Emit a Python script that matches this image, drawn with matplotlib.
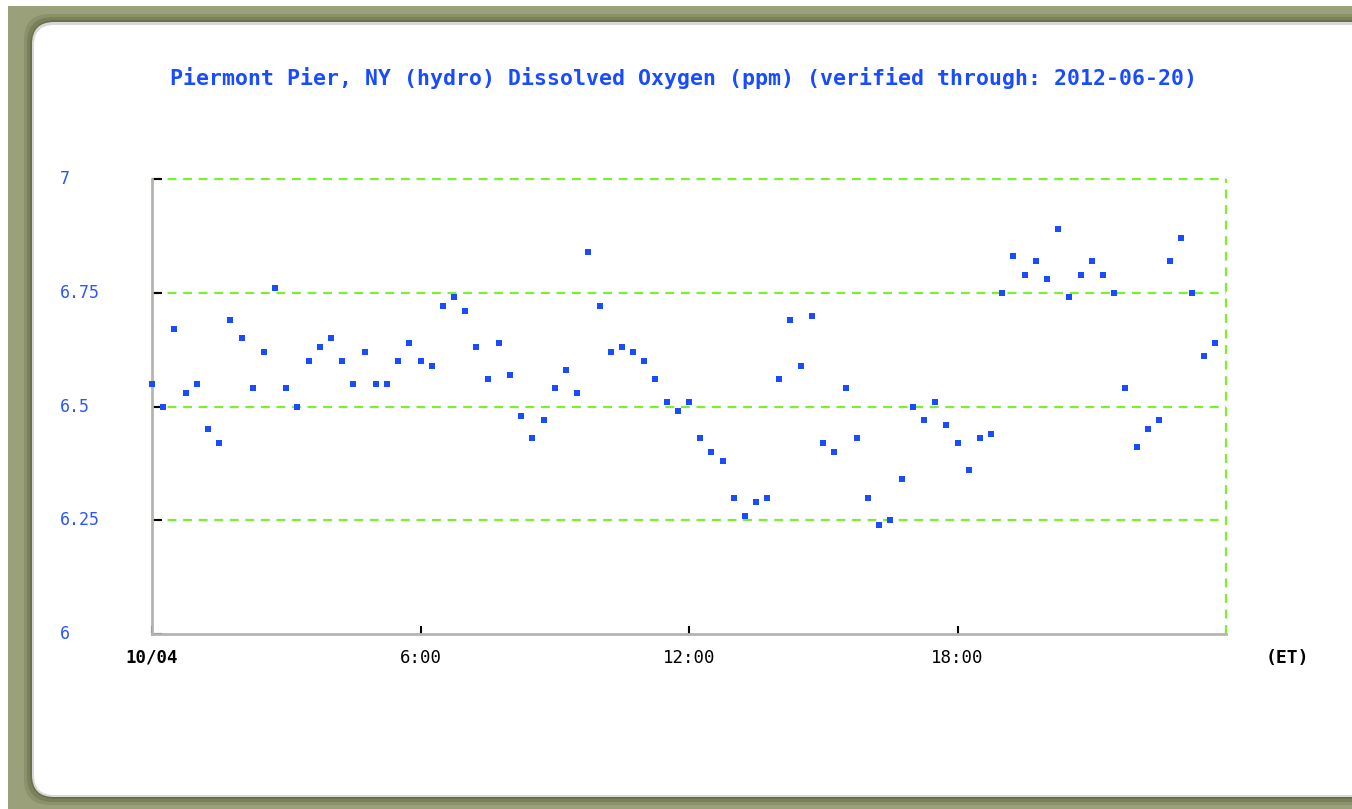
import numpy as np
import matplotlib
matplotlib.use("Agg")
import matplotlib.pyplot as plt
from matplotlib.patches import Rectangle, FancyBboxPatch

# dissolved oxygen (ppm), one reading every 15 minutes from 00:00
oxygen = [6.55, 6.50, 6.67, 6.53, 6.55, 6.45, 6.42, 6.69, 6.65, 6.54, 6.62, 6.76,
          6.54, 6.50, 6.60, 6.63, 6.65, 6.60, 6.55, 6.62, 6.55, 6.55, 6.60, 6.64,
          6.60, 6.59, 6.72, 6.74, 6.71, 6.63, 6.56, 6.64, 6.57, 6.48, 6.43, 6.47,
          6.54, 6.58, 6.53, 6.84, 6.72, 6.62, 6.63, 6.62, 6.60, 6.56, 6.51, 6.49,
          6.51, 6.43, 6.40, 6.38, 6.30, 6.26, 6.29, 6.30, 6.56, 6.69, 6.59, 6.70,
          6.42, 6.40, 6.54, 6.43, 6.30, 6.24, 6.25, 6.34, 6.50, 6.47, 6.51, 6.46,
          6.42, 6.36, 6.43, 6.44, 6.75, 6.83, 6.79, 6.82, 6.78, 6.89, 6.74, 6.79,
          6.82, 6.79, 6.75, 6.54, 6.41, 6.45, 6.47, 6.82, 6.87, 6.75, 6.61, 6.64]
hours = np.arange(len(oxygen)) / 4

yticks = [6, 6.25, 6.5, 6.75, 7]
ytick_labels = ["6", "6.25", "6.5", "6.75", "7"]
xticks = [0, 6, 12, 18]
xtick_labels = ["10/04", "6:00", "12:00", "18:00"]
title = "Piermont Pier, NY (hydro) Dissolved Oxygen (ppm) (verified through: 2012-06-20)"

W, H = 1352, 809
fig = plt.figure(figsize=(W / 100, H / 100), dpi=100)
fig.patch.set_facecolor("white")

# olive frame with rounded white panel
fig.patches.append(Rectangle((8, 0), W, H - 6, transform=None,
                             facecolor="#99a07a", edgecolor="none", zorder=-5))
for pad, col in [(8, "#8b926a"), (5, "#7a8059"), (2, "#6a6f49")]:
    fig.patches.append(FancyBboxPatch((32 - pad, 12 - pad), W + 40, 775 + 2 * pad,
                                      boxstyle="round,pad=0,rounding_size=26",
                                      transform=None, facecolor=col,
                                      edgecolor="none", zorder=-4))
fig.patches.append(FancyBboxPatch((32, 12), W + 40, 775,
                                  boxstyle="round,pad=0,rounding_size=22",
                                  transform=None, facecolor="#d8d8d8",
                                  edgecolor="none", zorder=-3))
fig.patches.append(FancyBboxPatch((34, 14), W + 40, 770,
                                  boxstyle="round,pad=0,rounding_size=20",
                                  transform=None, facecolor="white",
                                  edgecolor="none", zorder=-2))

ax = fig.add_axes([152 / W, 1 - 634 / H, (1226 - 152) / W, (634 - 179) / H])
ax.set_facecolor("none")
ax.set_zorder(2)
ax.set_xlim(0, 24)
ax.set_ylim(6, 7)

for y in [6.25, 6.5, 6.75, 7]:
    ax.axhline(y, color="#80ee30", lw=1.6, ls=(0, (4, 3)), zorder=1, clip_on=False)
ax.axvline(24, ymax=1.0, color="#80ee30", lw=1.6, ls=(0, (4, 3)), zorder=1,
           clip_on=False)

ax.plot(hours, oxygen, "s", color="#1a4cff", markersize=4.6,
        markeredgewidth=0, zorder=3, clip_on=False)

for s in ["top", "right"]:
    ax.spines[s].set_visible(False)
for s in ["left", "bottom"]:
    ax.spines[s].set_color("#b4b4b4")
    ax.spines[s].set_linewidth(2)

ax.set_yticks(yticks)
ax.set_yticklabels([])
ax.tick_params(axis="y", direction="in", length=7, width=1.5, color="black")
ax.set_xticks(xticks)
ax.set_xticklabels([])
ax.tick_params(axis="x", direction="in", length=6, width=1.5, color="black")

for y, lab in zip(yticks, ytick_labels):
    fig.text(60 / W, ax.transData.transform((0, y))[1] / H, lab,
             ha="left", va="center", color="#2a55ff", fontsize=12,
             family="DejaVu Sans Mono")

for x, lab in zip(xticks, xtick_labels):
    fig.text(ax.transData.transform((x, 6))[0] / W, 1 - 658 / H, lab,
             ha="center", va="center", color="black", fontsize=12.5,
             family="DejaVu Sans Mono",
             fontweight="bold" if lab == "10/04" else "normal")
fig.text(1287 / W, 1 - 658 / H, "(ET)", ha="center", va="center",
         color="black", fontsize=13, family="DejaVu Sans Mono", fontweight="bold")

fig.text(684 / W, 1 - 78 / H, title, ha="center", va="center",
         color="#1a4cff", fontsize=15.5, family="DejaVu Sans Mono",
         fontweight="bold")

fig.savefig("out.png", dpi=100)
